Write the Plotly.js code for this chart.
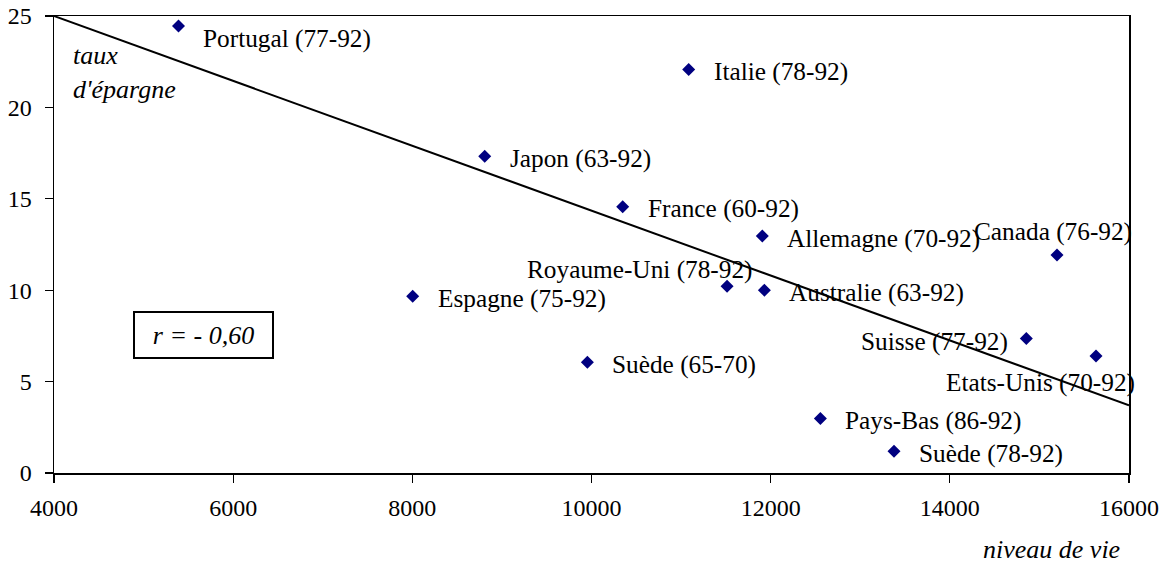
<!DOCTYPE html>
<html>
<head>
<meta charset="utf-8">
<script src="https://cdn.plot.ly/plotly-3.0.1.min.js"></script>
<style>html,body{margin:0;padding:0;background:#fff}#chart{width:1171px;height:565px}</style>
</head>
<body>
<div id="chart"></div>
<script>
// Data
const countries = ["Portugal (77-92)", "Italie (78-92)", "Japon (63-92)", "France (60-92)",
  "Allemagne (70-92)", "Royaume-Uni (78-92)", "Australie (63-92)", "Espagne (75-92)",
  "Canada (76-92)", "Suisse (77-92)", "Etats-Unis (70-92)", "Suède (65-70)",
  "Pays-Bas (86-92)", "Suède (78-92)"];
const niveauDeVie = [5390, 11085, 8808, 10348, 11907, 11513, 11930, 8004, 15196, 14854, 15632, 9954, 12555, 13377];
const tauxEpargne = [24.45, 22.08, 17.33, 14.56, 12.96, 10.22, 10.0, 9.67, 11.92, 7.36, 6.4, 6.06, 2.98, 1.19];
const trendX = [4000, 16000];
const trendY = [25, 3.7];
const xTicks = [4000, 6000, 8000, 10000, 12000, 14000, 16000];
const yTicks = [0, 5, 10, 15, 20, 25];
const rText = "r = - 0,60";
const yTitle = "taux<br>d'épargne";
const xTitle = "niveau de vie";

// Label placement (layout only)
const placement = {
  "Portugal (77-92)": {xanchor: "left", xshift: 22, yshift: -12},
  "Royaume-Uni (78-92)": {xanchor: "right", xshift: 28, yshift: 17},
  "Canada (76-92)": {xanchor: "center", xshift: -4, yshift: 24},
  "Suisse (77-92)": {xanchor: "right", xshift: -16, yshift: -3},
  "Etats-Unis (70-92)": {xanchor: "center", xshift: -56, yshift: -26}
};

const FONT = "'Liberation Serif', 'Times New Roman', Times, serif";
const LABEL_SIZE = 25.3;
const TICK_SIZE = 24;
const ITALIC_SIZE = 26;

const labelAnns = countries.map((c, i) => {
  const p = placement[c] || {xanchor: "left", xshift: 23, yshift: -2};
  return {
    x: niveauDeVie[i], y: tauxEpargne[i], xref: "x", yref: "y",
    text: c, showarrow: false, xanchor: p.xanchor, yanchor: "middle",
    xshift: p.xshift, yshift: p.yshift,
    font: {family: FONT, size: LABEL_SIZE, color: "#000"}
  };
});

const traces = [
  {x: trendX, y: trendY, mode: "lines", type: "scatter",
   line: {color: "#000", width: 2}, hoverinfo: "skip"},
  {x: niveauDeVie, y: tauxEpargne, mode: "markers", type: "scatter",
   marker: {symbol: "diamond", size: 10, color: "#000080"}, text: countries}
];

const layout = {
  width: 1171, height: 565,
  margin: {l: 54, r: 42, t: 16, b: 92, pad: 0},
  paper_bgcolor: "#fff", plot_bgcolor: "#fff",
  showlegend: false,
  font: {family: FONT, size: TICK_SIZE, color: "#000"},
  xaxis: {
    range: [4000, 16000], tickvals: xTicks, ticktext: xTicks.map(String),
    showgrid: false, zeroline: false, showline: true, mirror: true,
    linecolor: "#000", linewidth: 1.5, ticks: "outside", ticklen: 8, tickwidth: 1.2,
    tickcolor: "#000", ticklabelstandoff: 5,
    tickfont: {family: FONT, size: TICK_SIZE, color: "#000"}
  },
  yaxis: {
    range: [0, 25], tickvals: yTicks, ticktext: yTicks.map(String),
    showgrid: false, zeroline: false, showline: true, mirror: true,
    linecolor: "#000", linewidth: 1.5, ticks: "outside", ticklen: 8, tickwidth: 1.2,
    tickcolor: "#000", ticklabelstandoff: 8,
    tickfont: {family: FONT, size: TICK_SIZE, color: "#000"}
  },
  annotations: labelAnns.concat([
    {xref: "paper", yref: "paper", x: 0.0155, y: 0.876, xanchor: "left", yanchor: "middle",
     align: "left", text: yTitle, showarrow: false,
     font: {family: FONT, size: ITALIC_SIZE, color: "#000", style: "italic"}},
    {xref: "paper", yref: "paper", x: 0.9935, y: -0.168, xanchor: "right", yanchor: "middle",
     text: xTitle, showarrow: false,
     font: {family: FONT, size: ITALIC_SIZE, color: "#000", style: "italic"}},
    {xref: "paper", yref: "paper", x: (203 - 54) / 1075, y: (472.7 - 335) / 456.7,
     xanchor: "center", yanchor: "middle", text: rText, showarrow: false,
     width: 137, height: 44, bordercolor: "#000", borderwidth: 2, borderpad: 0,
     bgcolor: "#fff",
     font: {family: FONT, size: ITALIC_SIZE, color: "#000", style: "italic"}}
  ])
};

Plotly.newPlot("chart", traces, layout, {displayModeBar: false, staticPlot: true});
</script>
</body>
</html>
